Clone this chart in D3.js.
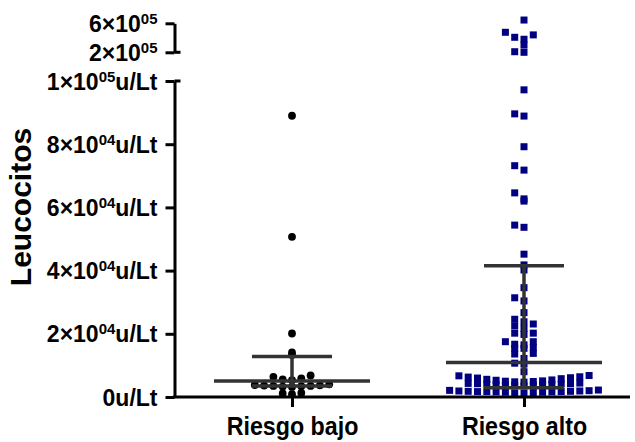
<!DOCTYPE html>
<html>
<head>
<meta charset="utf-8">
<script src="https://cdn.jsdelivr.net/npm/d3@7"></script>
<style>
  body { margin: 0; background: #fff; }
  text { font-family: "Liberation Sans", Arial, sans-serif; font-weight: bold; fill: #000; }
</style>
</head>
<body>
<svg id="chart"></svg>
<script>
// groups
var categories = ["Riesgo bajo", "Riesgo alto"];

// leucocitos, u/Lt
var riesgoBajo = [89000, 50700, 20100, 14100, 13300,
  6800, 6400, 5900, 5600, 5300,
  4000, 3800, 3700, 3600, 3500, 3500, 3400, 3300, 3200,
  1300, 1100, 900];

var riesgoAlto = [645000, 476000, 440000, 407000, 380000, 300000, 208000, 200000,
  97200, 89600, 88900, 79200, 73200, 71800, 64600, 62700, 62000,
  54400, 53700, 45200, 41800, 40200, 34600, 31400, 30400, 26700,
  24600, 23800, 23100, 22500, 21700, 20200, 20200, 19800,
  17500, 17500, 16700, 16500, 15600, 15400, 15400, 13800, 13600, 12200,
  10700, 10400, 8000,
  6800, 6700, 6400, 6300, 6100, 6000, 5800, 5600, 5400, 5300, 5100, 5000, 4900, 4800, 4700,
  4400, 4300, 4200, 4200, 4100, 4000, 4000, 3900, 3900, 3800, 3700, 3600, 3500,
  2200, 2100, 2000, 1900, 1900, 1800, 1800, 1700, 1700, 1700, 1600, 1600, 1500, 1500, 1400, 1300, 1200];

// median and interquartile range
var medians = [5100, 10900];
var q1 = [3500, 2900];
var q3 = [12800, 41500];

// ticks
var lowTicks = [0, 20000, 40000, 60000, 80000, 100000];
var lowTickLabels = ["0u/Lt", "2×10{04}u/Lt", "4×10{04}u/Lt", "6×10{04}u/Lt", "8×10{04}u/Lt", "1×10{05}u/Lt"];
var highTicks = [200000, 600000];
var highTickLabels = ["2×10{05}", "6×10{05}"];

var screen = { width: 635, height: 442 };
var axisX = 174.5;

var svg = d3.select("#chart")
  .attr("width", screen.width)
  .attr("height", screen.height);

var xScale = d3.scalePoint()
  .domain(categories)
  .range([292, 524]);

// broken y axis: two segments
var yLow = d3.scaleLinear().domain([0, 100000]).range([397, 81]);
var yHigh = d3.scaleLinear().domain([200000, 600000]).range([52.3, 23.3]);

var yOf = function(v) { return v > 100000 ? yHigh(v) : yLow(v); };

// prism-like scatter: points binned into rows, spread out from the centre
var swarm = function(values, binH, step) {
  var counts = {};
  return values.slice().sort(d3.ascending).map(function(v) {
    var y = yOf(v);
    var b = Math.floor((yLow(0) - y) / binH);
    var k = counts[b] || 0;
    counts[b] = k + 1;
    var slot = k === 0 ? 0 : (k % 2 ? -(k + 1) / 2 : k / 2);
    return { v: v, y: y, dx: slot * step };
  });
};

var plot = svg.append("g").classed("plot", true);

var bajo = swarm(riesgoBajo, 7.3, 9.3);
plot.selectAll("circle")
  .data(bajo)
  .enter()
  .append("circle")
  .attr("cx", function(d) { return xScale(categories[0]) + d.dx; })
  .attr("cy", function(d) { return d.y; })
  .attr("r", 3.9)
  .attr("fill", "#000");

var alto = swarm(riesgoAlto, 7.3, 9.3);
plot.selectAll("rect")
  .data(alto)
  .enter()
  .append("rect")
  .attr("x", function(d) { return xScale(categories[1]) + d.dx - 3.5; })
  .attr("y", function(d) { return d.y - 3.5; })
  .attr("width", 7)
  .attr("height", 7)
  .attr("fill", "#000080");

// median + IQR lines
var stats = categories.map(function(c, i) {
  return { c: c, med: medians[i], lo: q1[i], hi: q3[i] };
});
var lines = svg.append("g")
  .attr("stroke", "#333")
  .attr("stroke-width", 3.5);

var g = lines.selectAll("g").data(stats).enter().append("g");
g.append("line")
  .attr("x1", function(d) { return xScale(d.c); })
  .attr("x2", function(d) { return xScale(d.c); })
  .attr("y1", function(d) { return yLow(d.lo); })
  .attr("y2", function(d) { return yLow(d.hi); });
g.append("line")
  .attr("x1", function(d) { return xScale(d.c) - 78; })
  .attr("x2", function(d) { return xScale(d.c) + 78; })
  .attr("y1", function(d) { return yLow(d.med); })
  .attr("y2", function(d) { return yLow(d.med); });
g.selectAll(".q")
  .data(function(d) { return [d.lo, d.hi].map(function(v) { return { c: d.c, v: v }; }); })
  .enter()
  .append("line")
  .attr("x1", function(d) { return xScale(d.c) - 40; })
  .attr("x2", function(d) { return xScale(d.c) + 40; })
  .attr("y1", function(d) { return yLow(d.v); })
  .attr("y2", function(d) { return yLow(d.v); });

// axes
var writeLabel = function(sel, labels) {
  sel.each(function(d, i) {
    var t = d3.select(this).append("text")
      .attr("x", -17)
      .attr("y", 8)
      .attr("text-anchor", "end")
      .style("font-size", "23px");
    var parts = labels[i].split(/[{}]/);
    parts.forEach(function(p, j) {
      if (!p) return;
      var ts = t.append("tspan").text(p);
      if (j % 2 === 1) {
        ts.style("font-size", "15px").attr("dy", -8);
      } else if (j > 0) {
        ts.attr("dy", 8);
      }
    });
  });
};

var styleAxis = function(ax) {
  ax.selectAll("text").remove();
  ax.select(".domain").attr("stroke", "#000").attr("stroke-width", 3);
  ax.selectAll(".tick line").attr("stroke", "#000").attr("stroke-width", 3);
};

var yAxisLow = svg.append("g")
  .attr("transform", "translate(" + axisX + ",0)")
  .call(d3.axisLeft(yLow).tickValues(lowTicks).tickSize(9).tickSizeOuter(0));
styleAxis(yAxisLow);
writeLabel(yAxisLow.selectAll(".tick"), lowTickLabels);

var yAxisHigh = svg.append("g")
  .attr("transform", "translate(" + axisX + ",0)")
  .call(d3.axisLeft(yHigh).tickValues(highTicks).tickSize(9).tickSizeOuter(0));
styleAxis(yAxisHigh);
writeLabel(yAxisHigh.selectAll(".tick"), highTickLabels);

// break marks
svg.selectAll(".brk")
  .data([yLow(100000), yHigh(200000)])
  .enter()
  .append("line")
  .attr("x1", axisX)
  .attr("x2", axisX + 6)
  .attr("y1", function(d) { return d; })
  .attr("y2", function(d) { return d; })
  .attr("stroke", "#000")
  .attr("stroke-width", 3);

var xAxis = svg.append("g")
  .attr("transform", "translate(0," + yLow(0) + ")")
  .call(d3.axisBottom(xScale).tickSize(10).tickSizeOuter(0));
xAxis.select(".domain").remove();
xAxis.selectAll(".tick line").attr("stroke", "#000").attr("stroke-width", 3);
xAxis.selectAll("text").remove();
xAxis.append("line")
  .attr("x1", axisX - 1.5)
  .attr("x2", 630)
  .attr("stroke", "#000")
  .attr("stroke-width", 3);
xAxis.selectAll(".tick")
  .append("text")
  .attr("y", 38)
  .attr("text-anchor", "middle")
  .attr("transform", "scale(0.93,1)")
  .style("font-size", "25px")
  .text(function(d) { return d; });

svg.append("text")
  .attr("transform", "translate(31,207) rotate(-90)")
  .attr("text-anchor", "middle")
  .style("font-size", "30px")
  .text("Leucocitos");
</script>
</body>
</html>
